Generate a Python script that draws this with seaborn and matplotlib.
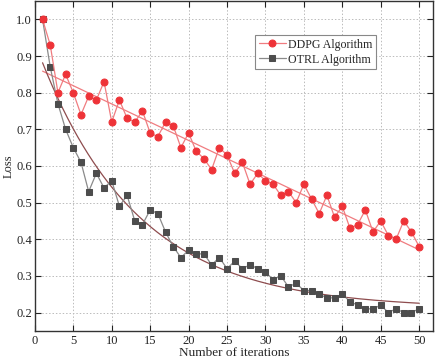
import numpy as np
import pandas as pd
import seaborn as sns
import matplotlib
matplotlib.use("Agg")
import matplotlib.pyplot as plt

iterations = list(range(1, 51))
ddpg_loss = [1.00, 0.93, 0.80, 0.85, 0.80, 0.74, 0.79, 0.78, 0.83, 0.72,
             0.78, 0.73, 0.72, 0.75, 0.69, 0.68, 0.72, 0.71, 0.65, 0.69,
             0.64, 0.62, 0.59, 0.65, 0.63, 0.58, 0.61, 0.55, 0.58, 0.56,
             0.55, 0.52, 0.53, 0.50, 0.55, 0.51, 0.47, 0.52, 0.46, 0.49,
             0.43, 0.44, 0.48, 0.42, 0.45, 0.41, 0.40, 0.45, 0.42, 0.38]
otrl_loss = [1.00, 0.87, 0.77, 0.70, 0.65, 0.61, 0.53, 0.58, 0.54, 0.56,
             0.49, 0.52, 0.45, 0.44, 0.48, 0.47, 0.42, 0.38, 0.35, 0.37,
             0.36, 0.36, 0.33, 0.35, 0.32, 0.34, 0.32, 0.33, 0.32, 0.31,
             0.29, 0.30, 0.27, 0.28, 0.26, 0.26, 0.25, 0.24, 0.24, 0.25,
             0.23, 0.22, 0.21, 0.21, 0.22, 0.20, 0.21, 0.20, 0.20, 0.21]
series_names = ["DDPG Algorithm", "OTRL Algorithm"]
x_ticks = [0, 5, 10, 15, 20, 25, 30, 35, 40, 45, 50]
y_ticks = [0.2, 0.3, 0.4, 0.5, 0.6, 0.7, 0.8, 0.9, 1.0]

sns.set_theme(style="ticks")
plt.rcParams['font.family'] = ['Liberation Serif', 'DejaVu Serif']
plt.rcParams['xtick.direction'] = 'in'
plt.rcParams['ytick.direction'] = 'in'

x = np.array(iterations, dtype=float)
d = np.array(ddpg_loss)
o = np.array(otrl_loss)

# linear fit for DDPG
k, b = np.polyfit(x, d, 1)
d_fit = k * x + b

# exponential decay fit for OTRL: y = y0 + A*exp(-x/t)
best = None
for t in np.linspace(2, 60, 2000):
    M = np.column_stack([np.ones_like(x), np.exp(-x / t)])
    coef, res, *_ = np.linalg.lstsq(M, o, rcond=None)
    err = np.sum((M @ coef - o) ** 2)
    if best is None or err < best[0]:
        best = (err, t, coef)
_, t_best, coef = best
xf = np.linspace(1, 50, 300)
o_fit = coef[0] + coef[1] * np.exp(-xf / t_best)

fig = plt.figure(figsize=(4.36, 3.6), dpi=100)
ax = fig.add_axes([0.080, 0.081, 0.913, 0.916])

red = "#EE3338"
red_line = "#F07C80"
gray = "#4D4D4D"
gray_line = "#8A8A8A"
fit_brown = "#8E4C4E"

df = pd.DataFrame({"x": x, "DDPG": d, "OTRL": o})
sns.lineplot(x=x, y=d_fit, ax=ax, color=red_line, linewidth=0.9)
sns.lineplot(x=xf, y=o_fit, ax=ax, color=fit_brown, linewidth=0.9)
sns.lineplot(data=df, x="x", y="OTRL", ax=ax, color=gray_line, linewidth=0.9,
             marker="s", markersize=4, markerfacecolor=gray, markeredgecolor=gray,
             label=series_names[1])
sns.lineplot(data=df, x="x", y="DDPG", ax=ax, color=red_line, linewidth=0.9,
             marker="o", markersize=5, markerfacecolor=red, markeredgecolor=red,
             label=series_names[0])

ax.set_xlim(0, 51.8)
ax.set_ylim(0.15, 1.05)
ax.set_xticks(x_ticks)
ax.set_yticks(y_ticks)
ax.set_yticklabels([f"{v:.1f}" for v in y_ticks])
ax.tick_params(axis='both', labelsize=9, length=4, width=0.8,
               top=True, right=True, colors='#222222')
ax.tick_params(axis='y', pad=2)
ax.tick_params(axis='x', pad=3)
ax.grid(True, linestyle=(0, (1.5, 2)), color="#BBBBBB", linewidth=0.7)
for s in ax.spines.values():
    s.set_linewidth(1.0)
    s.set_color("#333333")
ax.set_xlabel("Number of iterations", fontsize=9.5, labelpad=0)
ax.set_ylabel("Loss", fontsize=9, labelpad=1)

handles, labels = ax.get_legend_handles_labels()
order = [labels.index(series_names[0]), labels.index(series_names[1])]
leg = ax.legend([handles[i] for i in order], [labels[i] for i in order],
                loc="upper left", bbox_to_anchor=(0.553, 0.897),
                fontsize=8.6, frameon=True, fancybox=False, framealpha=1,
                edgecolor="#888888", handlelength=2.3, borderpad=0.3,
                labelspacing=0.25, handletextpad=0.2, borderaxespad=0)
leg.get_frame().set_linewidth(0.8)

fig.savefig("out.png", dpi=100)
